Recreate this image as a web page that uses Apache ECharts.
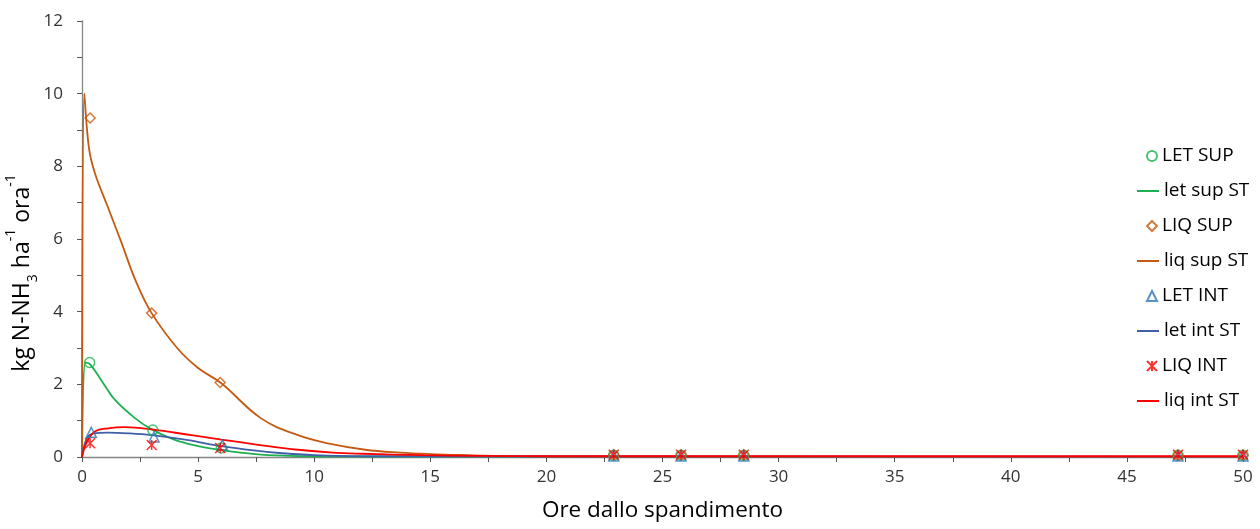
<!DOCTYPE html>
<html>
<head>
<meta charset="utf-8">
<script src="https://cdn.jsdelivr.net/npm/echarts@6/dist/echarts.min.js"></script>
<style>html,body{margin:0;padding:0;background:#fff}#c{width:1260px;height:529px}</style>
</head>
<body>
<div id="c"></div>
<script>
// Observed points
const letSup = [[0.33,2.6],[3.05,0.74],[6.0,0.25],[22.9,0.05],[25.8,0.05],[28.5,0.05],[47.2,0.05],[50,0.05]];
const liqSup = [[0.35,9.33],[3.0,3.96],[5.95,2.05],[22.9,0.06],[25.8,0.06],[28.5,0.06],[47.2,0.05],[50,0.05]];
const letInt = [[0.4,0.68],[3.1,0.55],[6.05,0.33],[22.9,0.03],[25.8,0.03],[28.5,0.03],[47.2,0.03],[50,0.03]];
const liqInt = [[0.35,0.38],[3.0,0.33],[5.95,0.25],[22.9,0.06],[25.8,0.06],[28.5,0.06],[47.2,0.06],[50,0.06]];
// Simulated curves (ST)
const letSupST = [[0,0],[0.15,2.6],[0.35,2.55],[1,1.95],[1.42,1.57],[2.28,1.07],[3,0.76],[4,0.47],[5,0.3],[6,0.19],[7.45,0.08],[9,0.03],[10,0.02],[15,0.01],[50,0.0]];
const liqSupST = [[0,0],[0.1,10],[0.3,8.5],[0.56,7.8],[1.1,6.9],[1.7,5.9],[2.3,4.87],[3,3.96],[4.1,3.0],[5,2.45],[6,2.03],[7.7,1.07],[9.3,0.6],[10.7,0.36],[12.2,0.2],[13.7,0.12],[15,0.08],[16.6,0.05],[18,0.03],[20,0.02],[30,0.01],[50,0.0]];
const letIntST = [[0,0],[0.2,0.5],[0.5,0.65],[1.1,0.67],[2,0.65],[3,0.6],[4.5,0.47],[6,0.3],[7.4,0.18],[8.5,0.11],[10,0.05],[12,0.02],[50,0.01]];
const liqIntST = [[0,0],[0.2,0.4],[0.56,0.7],[1.13,0.79],[1.85,0.82],[3,0.76],[4.72,0.6],[6,0.48],[7.45,0.35],[9.3,0.2],[10.8,0.12],[12.1,0.09],[14.7,0.05],[17,0.03],[20,0.02],[50,0.02]];
const names = ['LET SUP','let sup ST','LIQ SUP','liq sup ST','LET INT','let int ST','LIQ INT','liq int ST'];

const GREEN='#1DB050', ORANGE='#C55A11', BLUE='#2E75B6', BLUEL='#3F5FA8', RED='#FF0000';
const FONT='Open Sans';
const chart = echarts.init(document.getElementById('c'));
function sc(name, data, symbol, color, size){
  return {name, type:'scatter', data, symbol, symbolSize:size, z:3,
    itemStyle:{color:'transparent', borderColor:color, borderWidth:1.5}};
}
function ln(name, data, color){
  return {name, type:'line', data, symbol:'none', smooth:0.4, z:2,
    lineStyle:{color, width:1.8}, itemStyle:{color}};
}
const starPath='path://M0,0L10,10M10,0L0,10M5,0L5,10';
const legText = {fontSize:19, color:'#000', fontFamily:FONT, lineHeight:22};
chart.setOption({
  animation:false,
  textStyle:{fontFamily:FONT},
  grid:{left:82, right:17, top:21, bottom:72, containLabel:false, outerBoundsMode:'none'},
  legend:[
    {orient:'vertical', left:1141, top:140, itemWidth:10, itemHeight:10, itemGap:48,
      textStyle:legText, data:names.filter((n,i)=>i%2===0)},
    {orient:'vertical', left:1131, top:175, itemWidth:22, itemHeight:10, itemGap:48,
      textStyle:legText, data:names.filter((n,i)=>i%2===1).map(n=>({name:n, itemStyle:{opacity:0}}))}
  ],
  xAxis:{type:'value', min:0, max:50, interval:5,
    name:'Ore dallo spandimento', nameLocation:'middle', nameGap:42,
    nameTextStyle:{fontSize:22.5, color:'#000', fontFamily:FONT},
    axisLine:{lineStyle:{color:'#868686', width:1.3}},
    axisTick:{show:true, length:5, lineStyle:{color:'#555'}},
    minorTick:{show:true, splitNumber:2, length:5, lineStyle:{color:'#555'}},
    splitLine:{show:false},
    axisLabel:{fontSize:17, color:'#333', margin:12}},
  yAxis:{type:'value', min:0, max:12, interval:2,
    name:'{a|kg N-NH}{sub|3}{a| ha}{sup|-1}{a| ora}{sup|-1}', nameLocation:'middle', nameGap:42, nameRotate:90,
    nameMoveOverlap:false,
    nameTextStyle:{color:'#000', padding:[0,68,0,0], rich:{
      a:{fontSize:23, fontFamily:FONT, color:'#000', lineHeight:30},
      sub:{fontSize:14, fontFamily:FONT, color:'#000', verticalAlign:'bottom', lineHeight:24},
      sup:{fontSize:14, fontFamily:FONT, color:'#000', verticalAlign:'top', lineHeight:36}}},
    axisLine:{show:true, lineStyle:{color:'#868686', width:1.3}},
    axisTick:{show:true, length:5, lineStyle:{color:'#555'}},
    minorTick:{show:true, splitNumber:2, length:5, lineStyle:{color:'#555'}},
    splitLine:{show:false},
    axisLabel:{fontSize:17, color:'#333', margin:19}},
  series:[
    sc(names[0], letSup, 'circle', GREEN, 10),
    ln(names[1], letSupST, GREEN),
    sc(names[2], liqSup, 'diamond', ORANGE, 10),
    ln(names[3], liqSupST, ORANGE),
    sc(names[4], letInt, 'triangle', BLUE, 10),
    ln(names[5], letIntST, BLUEL),
    sc(names[6], liqInt, starPath, RED, 10),
    ln(names[7], liqIntST, RED)
  ]
});
</script>
</body>
</html>
